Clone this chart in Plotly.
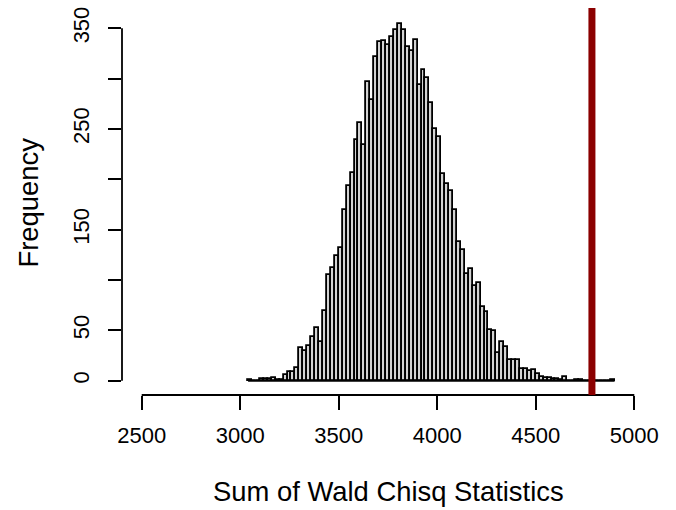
import plotly.graph_objects as go

# Histogram bins (left edges, width 20) and counts
bin_start = 3040
bin_width = 20
counts = [1, 0, 0, 2, 2, 2, 3, 1, 1, 6,
          9, 9, 13, 33, 30, 35, 43, 52, 38, 69,
          105, 112, 124, 132, 170, 193, 206, 239, 256, 234,
          297, 279, 321, 336, 337, 333, 341, 348, 354, 348,
          331, 327, 338, 294, 309, 301, 276, 250, 242, 205,
          195, 188, 170, 138, 130, 106, 111, 94, 97, 73,
          68, 50, 49, 28, 38, 34, 21, 21, 21, 12,
          12, 10, 11, 7, 4, 3, 3, 2, 2, 1,
          4, 0, 0, 1, 1, 0, 0, 0, 0, 0,
          0, 0, 1]
observed = 4785

x_ticks = [2500, 3000, 3500, 4000, 4500, 5000]
y_ticks = [0, 50, 100, 150, 200, 250, 300, 350]
y_ticktext = ["0", "50", "", "150", "", "250", "", "350"]
x_title = "Sum of Wald Chisq Statistics"
y_title = "Frequency"

edges = [bin_start + i * bin_width for i in range(len(counts) + 1)]
centers = [e + bin_width / 2 for e in edges[:-1]]
ymax = max(counts)
yrange = [-0.04 * ymax, 1.04 * ymax]

FONT = "Liberation Sans, Arial, Helvetica, sans-serif"

fig = go.Figure()
# baseline for empty bins (R draws zero-height rectangles)
fig.add_trace(go.Scatter(x=[edges[0], edges[-1]], y=[0, 0], mode="lines",
                         line=dict(color="black", width=1.8),
                         hoverinfo="skip", showlegend=False))
fig.add_trace(go.Bar(x=centers, y=counts, width=bin_width,
                     marker=dict(color="#D3D3D3",
                                 line=dict(color="black", width=1.8)),
                     showlegend=False))

fig.update_layout(
    width=676, height=510,
    margin=dict(l=122, r=22, t=7, b=115),
    paper_bgcolor="white", plot_bgcolor="white",
    bargap=0,
    font=dict(family=FONT, color="black"),
    xaxis=dict(range=[2400, 5100], tickvals=x_ticks,
               ticktext=[str(v) for v in x_ticks],
               ticks="outside", ticklen=14, tickwidth=1.8, tickcolor="black",
               ticklabelstandoff=7,
               showgrid=False, zeroline=False, showline=False,
               tickfont=dict(size=22, family=FONT, color="black")),
    yaxis=dict(range=yrange, tickvals=y_ticks, ticktext=y_ticktext,
               ticks="outside", ticklen=13, tickwidth=1.8, tickcolor="black",
               tickangle=-90, ticklabelstandoff=10,
               showgrid=False, zeroline=False, showline=False,
               tickfont=dict(size=22, family=FONT, color="black")),
    shapes=[
        dict(type="line", xref="x", yref="paper", x0=x_ticks[0], x1=x_ticks[-1],
             y0=0, y1=0, line=dict(color="black", width=1.8)),
        dict(type="line", xref="paper", yref="y", x0=0, x1=0,
             y0=y_ticks[0], y1=y_ticks[-1], line=dict(color="black", width=1.8)),
        dict(type="line", xref="x", yref="paper", x0=observed, x1=observed,
             y0=0, y1=1.005, line=dict(color="#8B0000", width=7)),
    ],
    annotations=[
        dict(text=x_title, xref="paper", yref="paper", x=0.5, y=0,
             xanchor="center", yanchor="middle", yshift=-96, showarrow=False,
             font=dict(size=27.4, family=FONT, color="black")),
        dict(text=y_title, xref="paper", yref="paper", x=0, y=0.5,
             xanchor="center", yanchor="middle", xshift=-94, textangle=-90,
             showarrow=False, font=dict(size=27.4, family=FONT, color="black")),
    ],
)

fig.write_html("out.html")
